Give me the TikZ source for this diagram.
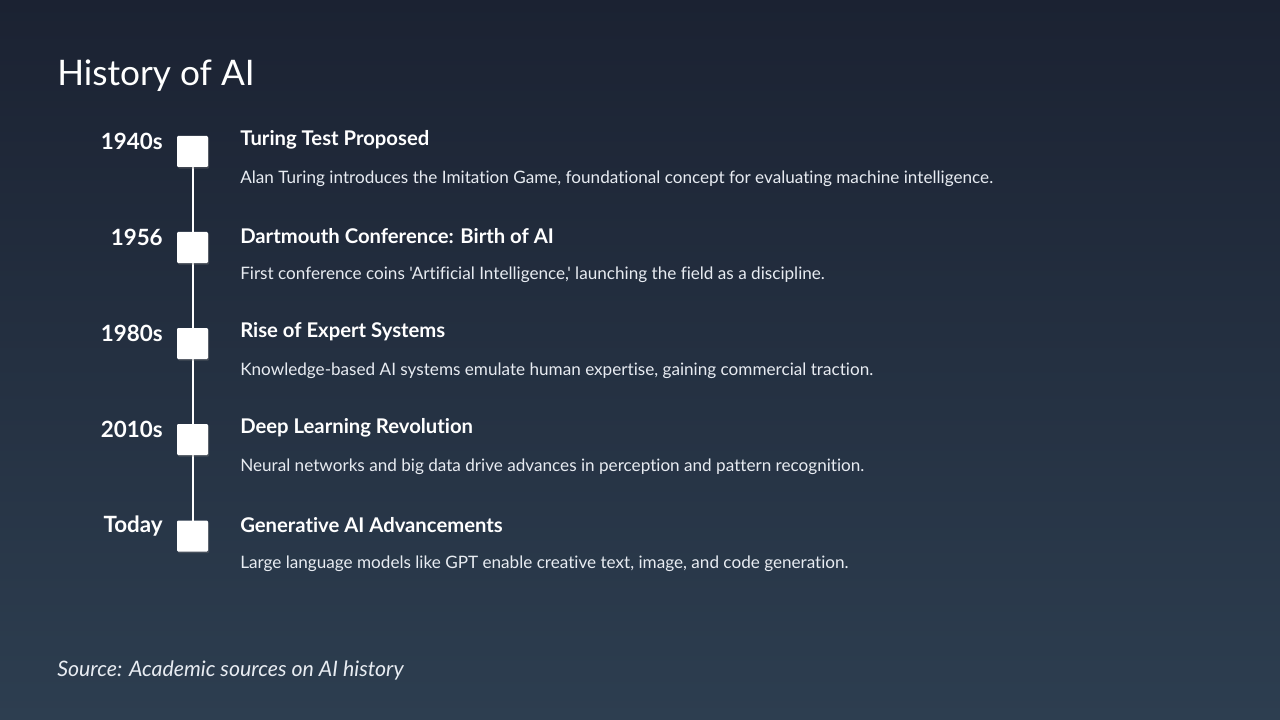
\documentclass[tikz,border=0pt]{standalone}
\usepackage{fontspec}
\setmainfont{Lato}[Ligatures={NoCommon,TeXOff}]
\usetikzlibrary{shadows}
\definecolor{bgtop}{RGB}{27,34,50}
\definecolor{bgbot}{RGB}{45,62,80}
\definecolor{desc}{RGB}{232,236,242}
\tikzset{
  yearlbl/.style={anchor=east, text=white, font=\fontsize{16.8}{19}\selectfont\bfseries, inner sep=0pt},
  ttl/.style={anchor=west, text=white, font=\fontsize{15.2}{18}\selectfont\bfseries, inner sep=0pt},
  dsc/.style={anchor=west, text=desc, font=\fontsize{12.85}{15}\selectfont, inner sep=0pt},
  marker/.style={fill=white, minimum size=23.25pt, inner sep=0pt, rounded corners=0.8pt,
     drop shadow={shadow xshift=0.8pt, shadow yshift=-1.2pt, opacity=0.35}},
  vline/.style={draw=white, line width=1.5pt}
}
\begin{document}
\begin{tikzpicture}[x=0.75pt,y=-0.75pt]
\shade[top color=bgtop, bottom color=bgbot] (0,0) rectangle (1280,720);
\useasboundingbox (0,0) rectangle (1280,720);
\node[anchor=west, text=white, font=\fontsize{26.4}{30}\selectfont, inner sep=0pt] (title) at (57,75.5) {History of AI};
\coordinate (m1) at (192.5,151.5);
\coordinate (m2) at (192.5,247.5);
\coordinate (m3) at (192.5,343.5);
\coordinate (m4) at (192.5,439.5);
\coordinate (m5) at (192.5,536);
\draw[vline] (m1) -- (m5);
\node[marker] (s1) at (m1) {};
\node[marker] (s2) at (m2) {};
\node[marker] (s3) at (m3) {};
\node[marker] (s4) at (m4) {};
\node[marker] (s5) at (m5) {};
\node[yearlbl] (y1) at (163,141) {1940s};
\node[yearlbl] (y2) at (163,237) {1956};
\node[yearlbl] (y3) at (163,333) {1980s};
\node[yearlbl] (y4) at (163,429) {2010s};
\node[yearlbl] (y5) at (163,526) {Today};
\node[ttl] (t1) at (240,140) {Turing Test Proposed};
\node[ttl] (t2) at (240,236) {Dartmouth Conference: Birth of AI};
\node[ttl] (t3) at (240,332) {Rise of Expert Systems};
\node[ttl] (t4) at (240,428) {Deep Learning Revolution};
\node[ttl] (t5) at (240,525) {Generative AI Advancements};
\node[dsc] (d1) at (240,179) {Alan Turing introduces the Imitation Game, foundational concept for evaluating machine intelligence.};
\node[dsc] (d2) at (240,275) {First conference coins 'Artificial Intelligence,' launching the field as a discipline.};
\node[dsc] (d3) at (240,371) {Knowledge-based AI systems emulate human expertise, gaining commercial traction.};
\node[dsc] (d4) at (240,467) {Neural networks and big data drive advances in perception and pattern recognition.};
\node[dsc] (d5) at (240,564) {Large language models like GPT enable creative text, image, and code generation.};
\node[anchor=west, text=desc, font=\fontsize{16}{19}\selectfont\itshape, inner sep=0pt] (src) at (57,670) {Source: Academic sources on AI history};
\end{tikzpicture}
\end{document}
